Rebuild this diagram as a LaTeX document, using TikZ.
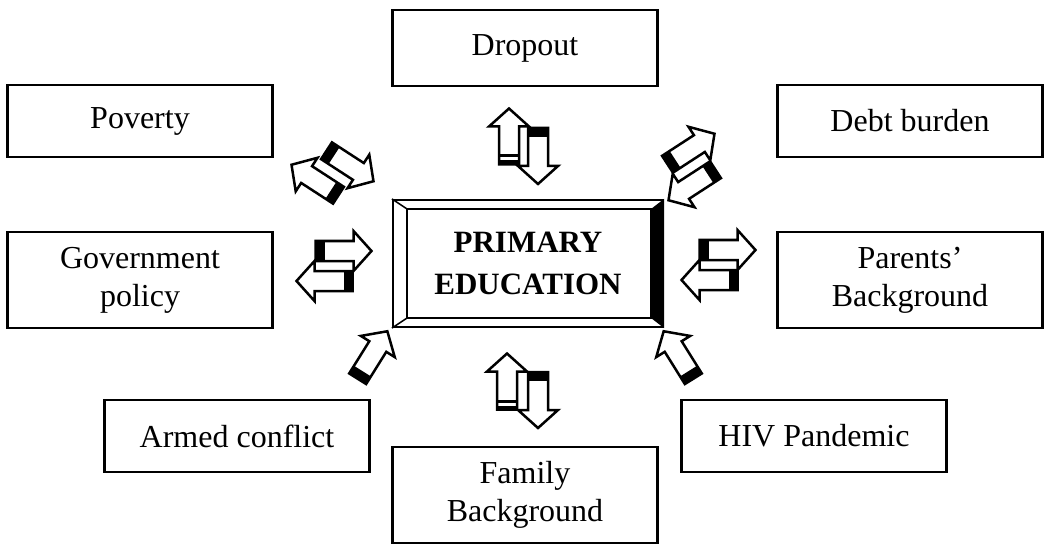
\documentclass[tikz,border=0pt]{standalone}
\usepackage{fontspec}
\setmainfont{Liberation Serif}
\usetikzlibrary{calc}
\tikzset{
  factor/.style={draw, line width=2.2pt, minimum width=265pt, align=center, inner sep=0pt,
    font=\fontsize{32}{38}\selectfont},
  barrow/.pic={
    \filldraw[fill=white, line width=2.5pt, line join=miter] (-28,-10) -- (10,-10) -- (10,-20) -- (28,0) -- (10,20) -- (10,10) -- (-28,10) -- cycle;
    \fill (-28,-10) rectangle (-19,10);
  },
  barrowb/.pic={
    \filldraw[fill=white, line width=2.5pt, line join=miter] (-28,-10) -- (10,-10) -- (10,-20) -- (28,0) -- (10,20) -- (10,10) -- (-28,10) -- cycle;
    \fill (-28,-10) rectangle (-24,10);
    \fill (-21,-10) rectangle (-18,10);
  }
}
\begin{document}
\begin{tikzpicture}[x=1pt,y=-1pt]
\useasboundingbox (0,0) rectangle (1044,548);
% factor boxes
\node[factor, minimum height=76pt] (drop) at (525,48) {Dropout};
\node[factor, minimum height=72pt] (pov) at (140,121) {Poverty};
\node[factor, minimum height=72pt] (debt) at (910,121) {Debt burden};
\node[factor, minimum height=96pt] (gov) at (140,280) {Government\\policy};
\node[factor, minimum height=96pt] (par) at (910,280) {Parents’\\Background};
\node[factor, minimum height=72pt] (arm) at (237,436) {Armed conflict};
\node[factor, minimum height=72pt] (hiv) at (814,436) {HIV Pandemic};
\node[factor, minimum height=96pt] (fam) at (525,495) {Family\\Background};
% central bevelled box
\node[draw, line width=2.2pt, minimum width=270pt, minimum height=127pt, align=center, inner sep=0pt,
  font=\fontsize{31}{42}\selectfont\bfseries] (prim) at (528,263.5) {PRIMARY\\EDUCATION};
\coordinate (pnw) at ($(prim.north west)+(15,10)$);
\coordinate (pse) at ($(prim.south east)+(-13,-10)$);
\coordinate (pne) at (pse |- pnw);
\coordinate (psw) at (pnw |- pse);
\fill (prim.north east) -- (pne) -- (pse) -- (prim.south east) -- cycle;
\draw[line width=2pt] (pnw) rectangle (pse);
\draw[line width=1.5pt] (prim.north west) -- (pnw) (prim.south west) -- (psw);
% arrows
\pic[rotate=90] at (509,136.5) {barrowb};
\pic[rotate=-90] at (538,156) {barrow};
\pic[rotate=90] at (507,381.5) {barrowb};
\pic[rotate=-90] at (538,400) {barrow};
\pic at (343.5,251) {barrow};
\pic[rotate=180] at (324.5,281) {barrow};
\pic at (727.5,250) {barrow};
\pic[rotate=180] at (709.5,280) {barrow};
\pic[rotate=-33] at (350,166) {barrow};
\pic[rotate=147] at (315,180) {barrow};
\pic[rotate=33] at (691,149) {barrow};
\pic[rotate=213] at (692,185) {barrow};
\pic[rotate=58] at (372.5,355) {barrow};
\pic[rotate=122] at (678.5,355) {barrow};
\end{tikzpicture}
\end{document}
